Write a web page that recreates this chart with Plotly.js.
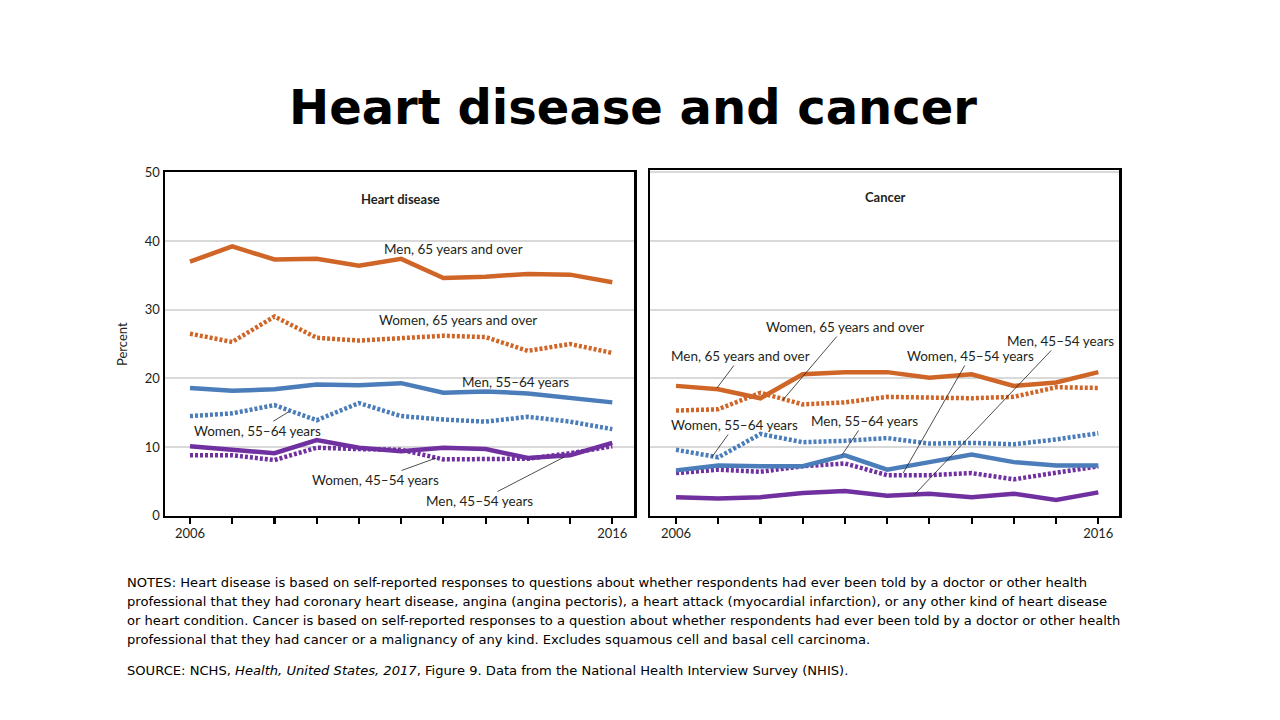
<!DOCTYPE html>
<html>
<head>
<meta charset="utf-8">
<script src="https://cdn.plot.ly/plotly-3.0.1.min.js"></script>
<style>
  html, body { margin: 0; padding: 0; background: #ffffff; }
  #chart { width: 1280px; height: 720px; }
</style>
</head>
<body>
<div id="chart"></div>
<script>
// ---------- Data ----------
const years = [2006, 2007, 2008, 2009, 2010, 2011, 2012, 2013, 2014, 2015, 2016];
const yearTickText = ["2006", "", "", "", "", "", "", "", "", "", "2016"];
const percentTicks = [0, 10, 20, 30, 40, 50];

// Heart disease panel
const hdMen65     = [37.0, 39.2, 37.3, 37.4, 36.4, 37.4, 34.6, 34.8, 35.2, 35.1, 34.0];
const hdWomen65   = [26.5, 25.3, 29.0, 25.9, 25.5, 25.9, 26.2, 26.0, 24.0, 25.0, 23.7];
const hdMen5564   = [18.6, 18.2, 18.4, 19.1, 19.0, 19.3, 17.9, 18.1, 17.8, 17.2, 16.5];
const hdWomen5564 = [14.5, 14.9, 16.1, 13.9, 16.4, 14.5, 14.0, 13.7, 14.4, 13.7, 12.6];
const hdMen4554   = [10.1, 9.6, 9.1, 11.0, 9.9, 9.4, 9.9, 9.7, 8.4, 8.8, 10.6];
const hdWomen4554 = [8.8, 8.8, 8.1, 9.9, 9.7, 9.6, 8.2, 8.2, 8.3, 9.1, 10.1];

// Cancer panel
const caMen65     = [18.9, 18.4, 17.1, 20.6, 20.9, 20.9, 20.1, 20.6, 18.9, 19.4, 20.9];
const caWomen65   = [15.3, 15.5, 17.9, 16.2, 16.5, 17.3, 17.2, 17.1, 17.3, 18.7, 18.6];
const caWomen5564 = [9.6, 8.5, 11.9, 10.7, 10.9, 11.3, 10.5, 10.6, 10.4, 11.1, 12.0];
const caMen5564   = [6.6, 7.3, 7.2, 7.2, 8.8, 6.7, 7.8, 8.9, 7.8, 7.3, 7.3];
const caWomen4554 = [6.2, 6.7, 6.4, 7.2, 7.6, 5.9, 5.9, 6.2, 5.3, 6.3, 7.2];
const caMen4554   = [2.7, 2.5, 2.7, 3.3, 3.6, 2.9, 3.2, 2.7, 3.2, 2.3, 3.4];

const seriesLabels = {
  men65: "Men, 65 years and over",
  women65: "Women, 65 years and over",
  men5564: "Men, 55\u201364 years",
  women5564: "Women, 55\u201364 years",
  men4554: "Men, 45\u201354 years",
  women4554: "Women, 45\u201354 years"
};

const slideTitle = "Heart disease and cancer";
const panelTitles = ["Heart disease", "Cancer"];
const yAxisTitle = "Percent";
const notesLines = [
  "NOTES: Heart disease is based on self-reported responses to questions about whether respondents had ever been told by a doctor or other health",
  "professional that they had coronary heart disease, angina (angina pectoris), a heart attack (myocardial infarction), or any other kind of heart disease",
  "or heart condition. Cancer is based on self-reported responses to a question about whether respondents had ever been told by a doctor or other health",
  "professional that they had cancer or a malignancy of any kind. Excludes squamous cell and basal cell carcinoma."
];
const sourceLine = "SOURCE: NCHS, <i>Health, United States, 2017</i>, Figure 9. Data from the National Health Interview Survey (NHIS).";

// ---------- Styling ----------
const W = 1280, H = 720;
const px = v => v / W;
const py = v => 1 - v / H;

const ORANGE = "#cf6526";
const BLUE = "#4a7db9";
const PURPLE = "#7030a0";
const LW = 4.5;
const DOT = "3px,2px";
const chartFont = "Lato, 'Open Sans', sans-serif";
const textColor = "#231f20";

function line(x, y, color, dotted, xa, ya, name) {
  return {
    type: "scatter", mode: "lines", x: x, y: y, name: name,
    xaxis: xa, yaxis: ya, hoverinfo: "skip",
    line: { color: color, width: LW, dash: dotted ? DOT : "solid", shape: "linear" }
  };
}

const traces = [
  line(years, hdWomen4554, PURPLE, true, "x", "y", seriesLabels.women4554),
  line(years, hdMen4554, PURPLE, false, "x", "y", seriesLabels.men4554),
  line(years, hdWomen5564, BLUE, true, "x", "y", seriesLabels.women5564),
  line(years, hdMen5564, BLUE, false, "x", "y", seriesLabels.men5564),
  line(years, hdWomen65, ORANGE, true, "x", "y", seriesLabels.women65),
  line(years, hdMen65, ORANGE, false, "x", "y", seriesLabels.men65),

  line(years, caMen4554, PURPLE, false, "x2", "y2", seriesLabels.men4554),
  line(years, caWomen4554, PURPLE, true, "x2", "y2", seriesLabels.women4554),
  line(years, caMen5564, BLUE, false, "x2", "y2", seriesLabels.men5564),
  line(years, caWomen5564, BLUE, true, "x2", "y2", seriesLabels.women5564),
  line(years, caWomen65, ORANGE, true, "x2", "y2", seriesLabels.women65),
  line(years, caMen65, ORANGE, false, "x2", "y2", seriesLabels.men65)
];

function xAxis(domain, range, anchor) {
  return {
    domain: domain, range: range, anchor: anchor,
    tickmode: "array", tickvals: years, ticktext: yearTickText,
    ticks: "outside", ticklen: 6, tickwidth: 2.2, tickcolor: "#000",
    ticklabelstandoff: -2,
    tickfont: { family: chartFont, size: 13, color: textColor },
    showline: true, linecolor: "#000", linewidth: 2.5, mirror: true,
    showgrid: false, zeroline: false, fixedrange: true
  };
}
function yAxis(domain, range, anchor, showLabels) {
  return {
    domain: domain, range: range, anchor: anchor,
    tickmode: "array", tickvals: percentTicks,
    showticklabels: showLabels, ticks: "",
    tickfont: { family: chartFont, size: 13, color: textColor },
    showline: true, linecolor: "#000", linewidth: 2.5, mirror: true,
    showgrid: true, gridcolor: "#d9d9d9", gridwidth: 1.8,
    zeroline: false, fixedrange: true
  };
}

// label helper: text centred at pixel offset (ax, ay) from the pointed spot
function label(text, xref, yref, x, y, ax, ay, leader) {
  return {
    text: text, xref: xref, yref: yref, x: x, y: y,
    showarrow: true, ax: ax, ay: ay,
    arrowhead: 0, arrowwidth: leader ? 0.8 : 0.01, arrowcolor: leader ? textColor : "rgba(0,0,0,0)",
    standoff: 0, startstandoff: 0,
    font: { family: chartFont, size: 13.5, color: textColor }
  };
}
function plainLabel(text, xref, yref, x, y) {
  return label(text, xref, yref, x, y, 0, 0, false);
}

const annotations = [
  // slide title
  { text: "<b>" + slideTitle + "</b>", xref: "paper", yref: "paper", x: px(632.5), y: py(107),
    xanchor: "center", yanchor: "middle", showarrow: false,
    font: { family: "'DejaVu Sans', sans-serif", size: 48, color: "#000" } },
  // panel titles
  { text: "<b>" + panelTitles[0] + "</b>", xref: "paper", yref: "paper", x: px(400.5), y: py(199),
    xanchor: "center", yanchor: "middle", showarrow: false,
    font: { family: chartFont, size: 13, color: textColor } },
  { text: "<b>" + panelTitles[1] + "</b>", xref: "paper", yref: "paper", x: px(885), y: py(197),
    xanchor: "center", yanchor: "middle", showarrow: false,
    font: { family: chartFont, size: 13, color: textColor } },
  // y axis title
  { text: yAxisTitle, xref: "paper", yref: "paper", x: px(122), y: py(344), textangle: -90,
    xanchor: "center", yanchor: "middle", showarrow: false,
    font: { family: chartFont, size: 13, color: textColor } },

  // Heart disease labels
  plainLabel(seriesLabels.men65, "x", "y", 2012.25, 38.8),
  plainLabel(seriesLabels.women65, "x", "y", 2012.35, 28.5),
  plainLabel(seriesLabels.men5564, "x", "y", 2013.70, 19.5),
  label(seriesLabels.women5564, "x", "y", 2008.34, 15.14, -31, 19, true),
  label(seriesLabels.women4554, "x", "y", 2011.83, 8.40, -61, 22, true),
  label(seriesLabels.men4554, "x", "y", 2014.86, 8.54, -85, 44, true),

  // Cancer labels
  label(seriesLabels.women65, "x2", "y2", 2008.53, 16.84, 62, -73, true),
  label(seriesLabels.men65, "x2", "y2", 2006.97, 18.59, 24, -32, true),
  label(seriesLabels.women5564, "x2", "y2", 2006.85, 8.54, 23, -32, true),
  label(seriesLabels.men5564, "x2", "y2", 2009.93, 8.84, 23, -34, true),
  label(seriesLabels.women4554, "x2", "y2", 2011.38, 6.22, 67, -117, true),
  label(seriesLabels.men4554, "x2", "y2", 2011.64, 3.02, 146, -154, true)
];

// notes
const notesY = [582, 601, 620, 639];
notesLines.forEach((t, i) => {
  annotations.push({ text: t, xref: "paper", yref: "paper", x: px(125), y: py(notesY[i]),
    xanchor: "left", yanchor: "middle", showarrow: false,
    font: { family: "'DejaVu Sans', sans-serif", size: 13.1, color: "#000" } });
});
annotations.push({ text: sourceLine, xref: "paper", yref: "paper", x: px(125), y: py(670),
  xanchor: "left", yanchor: "middle", showarrow: false,
  font: { family: "'DejaVu Sans', sans-serif", size: 13.1, color: "#000" } });

const layout = {
  width: W, height: H,
  margin: { l: 0, r: 0, t: 0, b: 0, pad: 0 },
  paper_bgcolor: "#ffffff", plot_bgcolor: "#ffffff",
  showlegend: false,
  xaxis: xAxis([px(165), px(634)], [2005.408, 2016.514], "y"),
  yaxis: yAxis([py(515.7), py(172.3)], [0, 50], "x", true),
  xaxis2: xAxis([px(650), px(1119)], [2005.384, 2016.49], "y2"),
  yaxis2: yAxis([py(515.7), py(170)], [0, 50.33], "x2", false),
  annotations: annotations
};

Plotly.newPlot("chart", traces, layout, { staticPlot: true, displayModeBar: false });
</script>
</body>
</html>
